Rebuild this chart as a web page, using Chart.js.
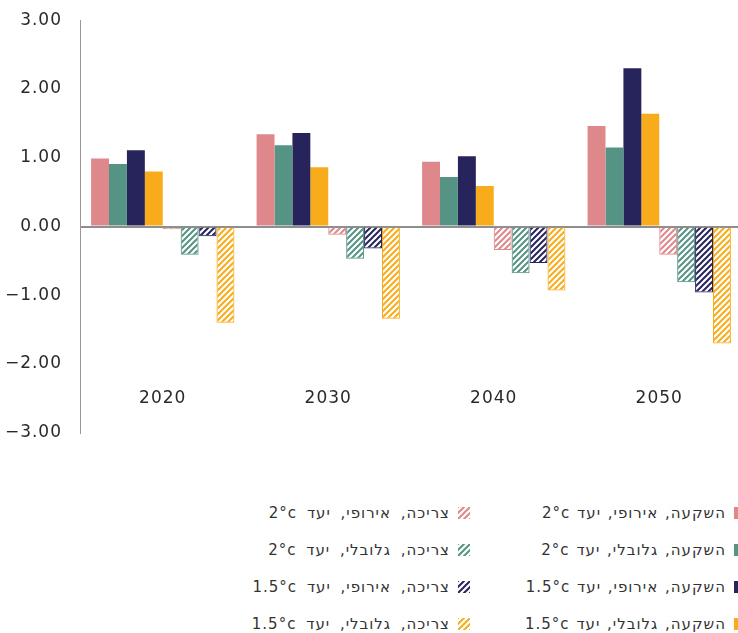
<!DOCTYPE html>
<html>
<head>
<meta charset="utf-8">
<script src="https://cdn.jsdelivr.net/npm/chart.js@4"></script>
<style>
  html, body { margin: 0; padding: 0; background: #fff; overflow: hidden; }
  #wrap { position: relative; width: 738px; height: 633px; overflow: hidden; }
  #chart { position: absolute; left: 0; top: -8px; }
  .legend-item {
    position: absolute; height: 20px; line-height: 20px;
    display: flex; align-items: center; direction: rtl;
    font-family: 'DejaVu Sans', sans-serif; font-size: 15px; color: #333;
    letter-spacing: 1px; word-spacing: 1px; white-space: nowrap;
  }
  .legend-item.cons { word-spacing: 4px; }
  .legend-item canvas { margin-left: 8px; }
</style>
</head>
<body>
<div id="wrap">
  <canvas id="chart" width="742" height="469"></canvas>
  <div id="legend"></div>
</div>
<script>
const years = ['2020', '2030', '2040', '2050'];

// investment (solid bars)
const investEuro2 = [0.99, 1.34, 0.94, 1.46];
const investGlobal2 = [0.91, 1.18, 0.72, 1.15];
const investEuro15 = [1.11, 1.36, 1.02, 2.30];
const investGlobal15 = [0.80, 0.86, 0.59, 1.64];

// consumption (hatched bars)
const consEuro2 = [-0.04, -0.12, -0.34, -0.41];
const consGlobal2 = [-0.41, -0.47, -0.68, -0.81];
const consEuro15 = [-0.14, -0.32, -0.53, -0.96];
const consGlobal15 = [-1.40, -1.34, -0.93, -1.70];

const investLabels = ['השקעה, אירופי, יעד 2°c', 'השקעה, גלובלי, יעד 2°c', 'השקעה, אירופי, יעד 1.5°c', 'השקעה, גלובלי, יעד 1.5°c'];
const consLabels = ['צריכה, אירופי, יעד 2°c', 'צריכה, גלובלי,  יעד 2°c', 'צריכה, אירופי, יעד 1.5°c', 'צריכה, גלובלי, יעד 1.5°c'];

const yMin = -3, yMax = 3, yStep = 1;

const colors = ['#de888b', '#559384', '#27245c', '#f9ac1b'];

function makeTile(color) {
    const tile = document.createElement('canvas');
    tile.width = 6;
    tile.height = 6;
    const t = tile.getContext('2d');
    t.strokeStyle = color;
    t.lineWidth = 2;
    t.beginPath();
    t.moveTo(0, 6); t.lineTo(6, 0);
    t.moveTo(-1, 1); t.lineTo(1, -1);
    t.moveTo(5, 7); t.lineTo(7, 5);
    t.stroke();
    return tile;
}

const ctx = document.getElementById('chart').getContext('2d');
const tiles = colors.map(makeTile);
const hatches = tiles.map(tile => ctx.createPattern(tile, 'repeat'));

const investData = [investEuro2, investGlobal2, investEuro15, investGlobal15];
const consData = [consEuro2, consGlobal2, consEuro15, consGlobal15];

const datasets = [];
investData.forEach((d, i) => datasets.push({
    label: investLabels[i],
    data: d,
    backgroundColor: colors[i],
    borderWidth: 0
}));
consData.forEach((d, i) => datasets.push({
    label: consLabels[i],
    data: d,
    backgroundColor: hatches[i],
    borderColor: colors[i],
    borderWidth: 1
}));

const spacing = {
    id: 'spacing',
    beforeUpdate(chart) { chart.ctx.letterSpacing = '1px'; },
    beforeDraw(chart) { chart.ctx.letterSpacing = '1px'; }
};

const tickFont = { family: 'DejaVu Sans', size: 17 };

const chart = new Chart(ctx, {
    type: 'bar',
    data: { labels: years, datasets: datasets },
    plugins: [spacing],
    options: {
        responsive: false,
        animation: false,
        layout: { padding: { top: 10, bottom: 15, left: 0, right: 0 } },
        datasets: { bar: { categoryPercentage: 0.866, barPercentage: 1.0 } },
        plugins: { legend: { display: false }, tooltip: { enabled: false } },
        scales: {
            x: {
                position: { y: -2.35 },
                grid: { display: false, drawTicks: false },
                border: { display: false },
                ticks: { color: '#2a2a2a', font: tickFont, padding: 0 }
            },
            y: {
                min: yMin,
                max: yMax,
                afterFit: s => { s.width = 80; },
                grid: {
                    drawTicks: false,
                    lineWidth: 2,
                    color: c => c.tick && c.tick.value === 0 ? '#8e8e8e' : 'rgba(0,0,0,0)'
                },
                border: { display: true, color: '#999', width: 1 },
                ticks: {
                    stepSize: yStep,
                    padding: 18,
                    color: '#2a2a2a',
                    font: tickFont,
                    callback: v => (v < 0 ? '\u2212' : '') + Math.abs(v).toFixed(2)
                }
            }
        }
    }
});

// two-column legend below the chart, investment on the right, consumption on the left
const legend = document.getElementById('legend');
const rowCenters = [513, 550, 587, 624];
function addItem(text, color, tile, rightPx, centerY) {
    const item = document.createElement('div');
    item.className = 'legend-item' + (tile ? ' cons' : '');
    item.style.right = rightPx + 'px';
    item.style.top = (centerY - 10) + 'px';
    const sw = document.createElement('canvas');
    sw.width = 12;
    sw.height = 12;
    const s = sw.getContext('2d');
    s.fillStyle = tile ? s.createPattern(tile, 'repeat') : color;
    s.fillRect(0, 0, 12, 12);
    const label = document.createElement('span');
    label.textContent = text;
    item.appendChild(sw);
    item.appendChild(label);
    legend.appendChild(item);
}
for (let i = 0; i < 4; i++) {
    addItem(investLabels[i], colors[i], null, -8, rowCenters[i]);
    addItem(consLabels[i], colors[i], tiles[i], 268, rowCenters[i]);
}
</script>
</body>
</html>
